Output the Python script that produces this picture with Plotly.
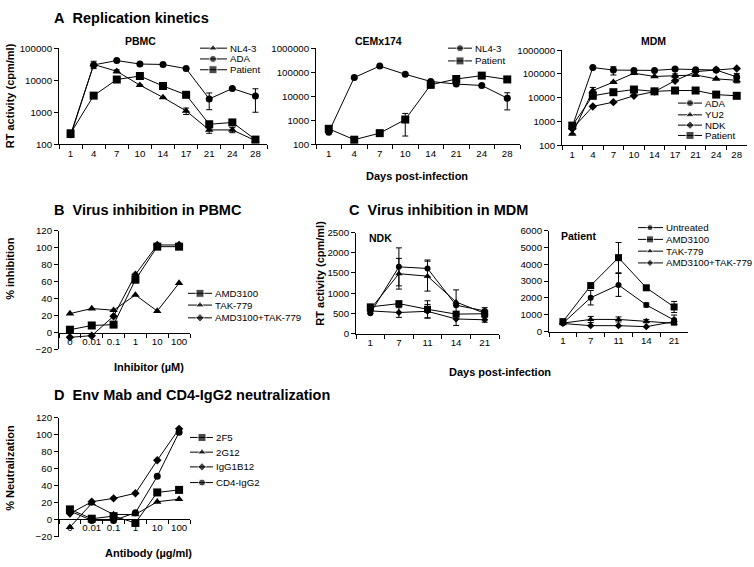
import plotly.graph_objects as go

W, H = 754, 567
FONT = "Liberation Sans, Arial, sans-serif"

# ---------------- data ----------------
days_A = ["1", "4", "7", "10", "14", "17", "21", "24", "28"]
days_cem = ["1", "4", "7", "10", "14", "21", "24", "28"]
days_C = ["1", "7", "11", "14", "21"]
conc_labels = ["0", "0.01", "0.1", "1", "10", "100"]

# A - PBMC
pbmc_names = ["NL4-3", "ADA", "Patient"]
pbmc_nl43 = [180, 31000, 19000, 7000, 2900, 1100, 280, 280, 130]
pbmc_ada = [200, 30000, 41000, 32000, 31000, 23000, 2600, 5500, 3200]
pbmc_patient = [220, 3300, 10500, 13500, 6600, 3500, 420, 480, 140]
pbmc_nl43_err = [None, 8000, 2000, None, None, 250, 60, 50, None]
pbmc_ada_err = [None, None, None, None, None, None, 1400, None, 2200]
pbmc_patient_err = [None, None, 1500, None, None, None, 100, None, None]

# A - CEMx174
cem_names = ["NL4-3", "Patient"]
cem_nl43 = [320, 60000, 180000, 82000, 41000, 32000, 28000, 8300]
cem_patient = [440, 155, 290, 1070, 30000, 52000, 72000, 50000]
cem_nl43_err = [None, None, None, None, None, None, None, 5600]
cem_patient_err = [None, None, None, 850, 8000, None, None, None]

# A - MDM
mdm_names = ["ADA", "YU2", "NDK", "Patient"]
mdm_ada = [610, 185000, 145000, 140000, 140000, 160000, 150000, 145000, 75000]
mdm_yu2 = [300, 20000, 45000, 107000, 78000, 85000, 90000, 62000, 54000]
mdm_ndk = [490, 4300, 6500, 12000, 18000, 52000, 125000, 150000, 170000]
mdm_patient = [670, 12000, 17000, 22000, 18500, 20000, 20000, 13500, 12000]
mdm_ada_err = [None, None, 55000, None, None, None, None, None, 30000]
mdm_yu2_err = [None, 7000, None, None, None, 15000, None, None, 12000]
mdm_ndk_err = [None, None, None, None, None, None, None, None, None]
mdm_patient_err = [None, None, None, None, None, None, None, None, None]

# B - PBMC inhibition
b_names = ["AMD3100", "TAK-779", "AMD3100+TAK-779"]
b_amd = [3, 8, 9, 62, 101, 101]
b_tak = [22, 28, 26, 44, 25, 58]
b_combo = [-6, -4, 19, 68, 103, 103]

# C - MDM inhibition
c_names = ["Untreated", "AMD3100", "TAK-779", "AMD3100+TAK-779"]
ndk_untreated = [500, 1650, 1610, 700, 560]
ndk_amd = [660, 740, 600, 480, 490]
ndk_tak = [600, 1480, 1420, 780, 500]
ndk_combo = [560, 520, 550, 360, 340]
ndk_untreated_err = [None, 470, 210, None, 80]
ndk_amd_err = [None, None, 210, None, None]
ndk_tak_err = [None, 380, 370, 300, 80]
ndk_combo_err = [None, 120, 170, 160, 60]

pat_untreated = [490, 2010, 2770, 1580, 680]
pat_amd = [590, 2730, 4390, 2600, 1460]
pat_tak = [500, 720, 720, 620, 490]
pat_combo = [480, 350, 350, 290, 590]
pat_untreated_err = [None, 430, 680, 120, 300]
pat_amd_err = [None, 150, 900, 100, 330]
pat_tak_err = [None, 180, 150, 100, None]
pat_combo_err = [None, None, None, None, None]

# D - neutralization
d_names = ["2F5", "2G12", "IgG1B12", "CD4-IgG2"]
d_2f5 = [12, 1, 4, -4, 32, 35]
d_2g12 = [-9, 19, 6, 6, 21, 24]
d_igg1b12 = [7, 21, 25, 31, 70, 107]
d_cd4 = [10, -1, -1, 8, 51, 103]

# ---------------- helpers ----------------
def PX(x):
    return x / W


def PY(y):
    return 1 - y / H


BIG = {"square": 8, "circle": 7, "triangle-up": 7.5, "diamond": 6.5}
SMALL = {"square": 7, "circle": 6, "triangle-up": 6.5, "diamond": 5.5}
TICK_SIZE = 9.7
LEG_SIZE = 9.7

fig = go.Figure()


def add_series(xcats, yvals, name, symbol, axis, sizes, err=None):
    kw = {}
    if err is not None:
        kw["error_y"] = dict(type="data", array=err, arrayminus=err, symmetric=False,
                             color="black", thickness=1, width=3)
    fig.add_trace(go.Scatter(
        x=xcats, y=yvals, name=name, mode="lines+markers",
        line=dict(color="black", width=1),
        marker=dict(symbol=symbol, size=sizes[symbol], color="black"),
        xaxis="x" + axis, yaxis="y" + axis, showlegend=False, cliponaxis=False, **kw))


# A
add_series(days_A, pbmc_nl43, pbmc_names[0], "triangle-up", "", BIG, pbmc_nl43_err)
add_series(days_A, pbmc_ada, pbmc_names[1], "circle", "", BIG, pbmc_ada_err)
add_series(days_A, pbmc_patient, pbmc_names[2], "square", "", BIG, pbmc_patient_err)

add_series(days_cem, cem_nl43, cem_names[0], "circle", "2", BIG, cem_nl43_err)
add_series(days_cem, cem_patient, cem_names[1], "square", "2", BIG, cem_patient_err)

add_series(days_A, mdm_ada, mdm_names[0], "circle", "3", BIG, mdm_ada_err)
add_series(days_A, mdm_yu2, mdm_names[1], "triangle-up", "3", BIG, mdm_yu2_err)
add_series(days_A, mdm_ndk, mdm_names[2], "diamond", "3", BIG, mdm_ndk_err)
add_series(days_A, mdm_patient, mdm_names[3], "square", "3", BIG, mdm_patient_err)

# B
add_series(conc_labels, b_amd, b_names[0], "square", "4", BIG)
add_series(conc_labels, b_tak, b_names[1], "triangle-up", "4", BIG)
add_series(conc_labels, b_combo, b_names[2], "diamond", "4", BIG)

# C
add_series(days_C, ndk_untreated, c_names[0], "circle", "5", SMALL, ndk_untreated_err)
add_series(days_C, ndk_amd, c_names[1], "square", "5", SMALL, ndk_amd_err)
add_series(days_C, ndk_tak, c_names[2], "triangle-up", "5", SMALL, ndk_tak_err)
add_series(days_C, ndk_combo, c_names[3], "diamond", "5", SMALL, ndk_combo_err)

add_series(days_C, pat_untreated, c_names[0], "circle", "6", SMALL, pat_untreated_err)
add_series(days_C, pat_amd, c_names[1], "square", "6", SMALL, pat_amd_err)
add_series(days_C, pat_tak, c_names[2], "triangle-up", "6", SMALL, pat_tak_err)
add_series(days_C, pat_combo, c_names[3], "diamond", "6", SMALL, pat_combo_err)

# D
add_series(conc_labels, d_2f5, d_names[0], "square", "7", BIG)
add_series(conc_labels, d_2g12, d_names[1], "triangle-up", "7", BIG)
add_series(conc_labels, d_igg1b12, d_names[2], "diamond", "7", BIG)
add_series(conc_labels, d_cd4, d_names[3], "circle", "7", BIG)

# ---------------- legends (drawn on a full-page pixel overlay axis) ----------------
annotations = []


def add_legend(names, symbols, x0, xm, x1, xt, ys, sizes):
    for name, sym, yy in zip(names, symbols, ys):
        fig.add_trace(go.Scatter(
            x=[x0, xm, x1], y=[yy, yy, yy], mode="lines+markers",
            line=dict(color="black", width=1),
            marker=dict(symbol=sym, size=[0, sizes[sym], 0], color="black"),
            xaxis="x8", yaxis="y8", showlegend=False, hoverinfo="skip", cliponaxis=False))
        annotations.append(dict(x=PX(xt), y=PY(yy), xref="paper", yref="paper",
                                text=name, showarrow=False, xanchor="left", yanchor="middle",
                                font=dict(family=FONT, size=LEG_SIZE, color="black")))


add_legend(pbmc_names, ["triangle-up", "circle", "square"], 200, 213, 227, 228, [43, 54, 65], BIG)
add_legend(cem_names, ["circle", "square"], 448, 460, 472, 473, [43, 56], BIG)
add_legend(mdm_names, ["circle", "triangle-up", "diamond", "square"], 678, 690, 702, 703,
           [99, 111, 121.5, 132], BIG)
add_legend(b_names, ["square", "triangle-up", "diamond"], 188, 200, 212, 213, [293, 305, 318], BIG)
add_legend(c_names, ["circle", "square", "triangle-up", "diamond"], 638, 650, 663, 664,
           [226, 238, 250, 262], SMALL)
add_legend(d_names, ["square", "triangle-up", "diamond", "circle"], 190, 202, 213, 214,
           [440, 455, 470, 486], BIG)

# ---------------- text ----------------
def text(x, y, s, size=10, bold=False, xanchor="center", angle=0):
    annotations.append(dict(x=PX(x), y=PY(y), xref="paper", yref="paper",
                            text="<b>%s</b>" % s if bold else s, showarrow=False,
                            xanchor=xanchor, yanchor="middle", textangle=angle,
                            font=dict(family=FONT, size=size, color="black")))


NB = "\u00a0"
text(52, 12, "A" + NB + NB + "Replication kinetics", 14.5, True, "left")
text(52, 208, "B" + NB + NB + "Virus inhibition in PBMC", 14.5, True, "left")
text(347, 208, "C" + NB + NB + "Virus inhibition in MDM", 14.5, True, "left")
text(52, 397, "D" + NB + NB + "Env Mab and CD4-IgG2 neutralization", 14.5, True, "left")

text(140, 36, "PBMC", 10.5, True)
text(378, 36, "CEMx174", 10.5, True)
text(653, 36, "MDM", 10.5, True)
text(367, 237, "NDK", 10.5, True, "left")
text(559, 235, "Patient", 10.5, True, "left")

text(10, 92, "RT activity (cpm/ml)", 11, True, angle=-90)
text(10, 268, "% inhibition", 11, True, angle=-90)
text(320, 273, "RT activity (cpm/ml)", 11, True, angle=-90)
text(10, 471, "% Neutralization", 11, True, angle=-90)

text(417, 173, "Days post-infection", 11, True)
text(149, 368, "Inhibitor (\u00b5M)", 11, True)
text(500, 373, "Days post-infection", 11, True)
text(148, 558, "Antibody (\u00b5g/ml)", 11, True)

# ---------------- axes ----------------
base = dict(showline=True, linecolor="black", linewidth=1, ticks="outside", ticklen=4,
            tickcolor="black", tickwidth=1, showgrid=False, zeroline=False, tickangle=0,
            tickfont=dict(family=FONT, size=TICK_SIZE, color="black"), fixedrange=True)


def xcat(cats, x0, x1, anchor, **kw):
    d = dict(base, type="category", categoryorder="array", categoryarray=cats,
             range=[-0.5, len(cats) - 0.5], tickson="boundaries",
             domain=[PX(x0), PX(x1)], anchor=anchor)
    d.update(kw)
    return d


def ylin(y_bottom, y_top, rng, dtick, anchor):
    return dict(base, range=rng, dtick=dtick, tick0=0, domain=[PY(y_bottom), PY(y_top)],
                anchor=anchor)


def ylog(y_bottom, y_top, top_exp, anchor):
    vals = [10 ** k for k in range(2, top_exp + 1)]
    return dict(base, type="log", range=[2, top_exp], tickvals=vals,
                ticktext=[str(v) for v in vals], domain=[PY(y_bottom), PY(y_top)],
                anchor=anchor)


layout_axes = dict(
    xaxis=xcat(days_A, 59, 267, "y"),
    yaxis=ylog(141, 43, 5, "x"),
    xaxis2=xcat(days_cem, 316, 520, "y2"),
    yaxis2=ylog(141, 43, 6, "x2"),
    xaxis3=xcat(days_A, 562, 747, "y3"),
    yaxis3=ylog(142, 45, 6, "x3"),
    xaxis4=xcat(conc_labels, 59, 190, "free", position=PY(333)),
    yaxis4=ylin(350, 229, [-20, 120], 20, "x4"),
    xaxis5=xcat(days_C, 356, 499, "y5"),
    yaxis5=ylin(334, 231, [0, 2500], 500, "x5"),
    xaxis6=xcat(days_C, 549, 688, "y6"),
    yaxis6=ylin(332, 229, [0, 6000], 1000, "x6"),
    xaxis7=xcat(conc_labels, 59, 190, "free", position=PY(523)),
    yaxis7=ylin(541, 420, [-20, 120], 20, "x7"),
    xaxis8=dict(domain=[0, 1], range=[0, W], visible=False, anchor="y8", fixedrange=True),
    yaxis8=dict(domain=[0, 1], range=[H, 0], visible=False, anchor="x8", fixedrange=True),
)

fig.update_layout(
    width=W, height=H, autosize=False,
    margin=dict(l=0, r=0, t=0, b=0),
    paper_bgcolor="white", plot_bgcolor="rgba(0,0,0,0)",
    font=dict(family=FONT, size=10, color="black"),
    showlegend=False,
    annotations=annotations,
    **layout_axes,
)

fig.write_html("out.html", config={"displayModeBar": False},
               post_script="document.body.style.margin='0';")
